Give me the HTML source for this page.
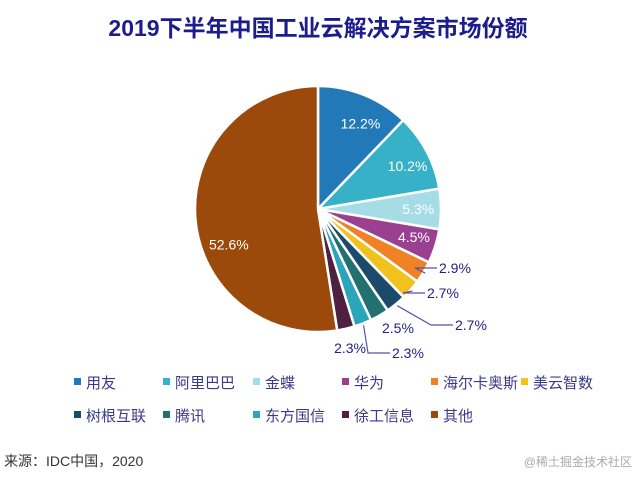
<!DOCTYPE html>
<html><head><meta charset="utf-8"><style>
body{margin:0;background:#fff;width:637px;height:474px;overflow:hidden;font-family:"Liberation Sans","Noto Sans CJK SC",sans-serif}
</style></head><body>
<svg id="c" width="637" height="474" xmlns="http://www.w3.org/2000/svg">
<text x="318" y="36" text-anchor="middle" font-size="23" font-weight="bold" fill="#1c1c8c" font-family="Liberation Sans, Noto Sans CJK SC, sans-serif">2019下半年中国工业云解决方案市场份额</text>
<g id="slices"></g><g id="labels"></g><g id="legend"></g>
<text x="4" y="466" font-size="14" fill="#333" font-family="Liberation Sans, Noto Sans CJK SC, sans-serif">来源：IDC中国，2020</text>
<text x="632" y="466" text-anchor="end" font-size="12" fill="#aaa" font-family="Liberation Sans, Noto Sans CJK SC, sans-serif">@稀土掘金技术社区</text>
</svg>
<script>
const categories=["用友","阿里巴巴","金蝶","华为","海尔卡奥斯","美云智数","树根互联","腾讯","东方国信","徐工信息","其他"];
const values=[12.2,10.2,5.3,4.5,2.9,2.7,2.7,2.5,2.3,2.3,52.6];
const labels=["12.2%","10.2%","5.3%","4.5%","2.9%","2.7%","2.7%","2.5%","2.3%","2.3%","52.6%"];
const colors=["#2179b8","#36b1c8","#a6dce6","#9b3f90","#f08125","#f1c21b","#1b4a6a","#22706f","#2ba5b9","#4d213f","#9b4a0b"];
const NS="http://www.w3.org/2000/svg";
const cx=318,cy=209,r=123;
const total=values.reduce((a,b)=>a+b,0);
function pt(a,rr){return [cx+rr*Math.sin(a),cy-rr*Math.cos(a)];}
const sg=document.getElementById('slices'),lg=document.getElementById('labels'),leg=document.getElementById('legend');
// layout: fixed label anchor positions for outside labels [x, y, side, leader]
const outside={4:[439,268,1,1],5:[427,293,1,1],6:[455,325,1,1],7:[382,328,1,0],8:[392,353,1,1],9:[366,348,-1,0]};
let a0=0;
values.forEach((v,i)=>{
  const a1=a0+v/total*2*Math.PI;
  const p0=pt(a0,r),p1=pt(a1,r),large=(a1-a0)>Math.PI?1:0;
  const p=document.createElementNS(NS,'path');
  p.setAttribute('d',`M${cx},${cy}L${p0[0]},${p0[1]}A${r},${r} 0 ${large} 1 ${p1[0]},${p1[1]}Z`);
  p.setAttribute('fill',colors[i]);p.setAttribute('stroke','#fff');p.setAttribute('stroke-width','2.5');
  
  
  sg.appendChild(p);
  const am=(a0+a1)/2;
  const t=document.createElementNS(NS,'text');
  t.setAttribute('font-size','14');t.textContent=labels[i];
  
  
  if(outside[i]){
    const e=pt(am,r+2);const o=outside[i];
    const tx=o[0],ty=o[1];
    t.setAttribute('x',tx);t.setAttribute('y',ty+5);t.setAttribute('fill','#22228a');
    if(o[3]){
      const l=document.createElementNS(NS,'polyline');
      const lx=tx-2;
      l.setAttribute('points',`${e[0]},${e[1]} ${lx-22},${ty} ${lx},${ty}`);
      l.setAttribute('fill','none');l.setAttribute('stroke','#5555aa');l.setAttribute('stroke-width','1.2');
      
      
      lg.appendChild(l);
    }
    if(o[2]<0){t.setAttribute('text-anchor','end');}
  } else {
    let q;
    if(i===10){q=pt(am-0.3,0.78*r);}else{q=pt(am,0.75*r);q[0]+=8;}
    t.setAttribute('x',q[0]);t.setAttribute('y',q[1]+5);t.setAttribute('text-anchor','middle');t.setAttribute('fill','#fff');
  }
  lg.appendChild(t);
  const col=i%6,row=Math.floor(i/6);
  const lx=[74,163,253,342,431,521][col],ly=row?415:382;
  const g=document.createElementNS(NS,'g');
  
  
  const s=document.createElementNS(NS,'rect');
  s.setAttribute('x',lx);s.setAttribute('y',ly-4);s.setAttribute('width',7);s.setAttribute('height',7);s.setAttribute('fill',colors[i]);
  const lt=document.createElementNS(NS,'text');
  lt.setAttribute('x',lx+12);lt.setAttribute('y',ly+6);lt.setAttribute('font-size','15');lt.setAttribute('fill','#3a3a8a');lt.textContent=categories[i];
  g.appendChild(s);g.appendChild(lt);leg.appendChild(g);
  a0=a1;
});
</script>
</body></html>
